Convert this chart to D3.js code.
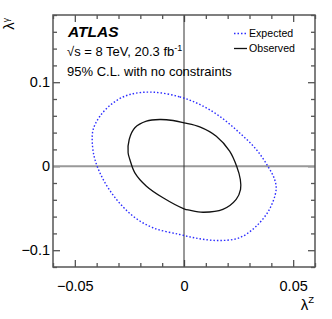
<!DOCTYPE html>
<html>
<head>
<meta charset="utf-8">
<script src="https://cdn.jsdelivr.net/npm/d3@7"></script>
<style>
body { margin: 0; background: #fff; }
text { font-family: "Liberation Sans", Arial, Helvetica, sans-serif; }
</style>
</head>
<body>
<div id="contour"></div>
<script>
// Contorno esperado (lambda_Z, lambda_gamma)
var expZ = [-0.0142, -0.0020, 0.0072, 0.0163, 0.0254, 0.0331, 0.0384, 0.0414, 0.0422, 0.0391, 0.0331, 0.0254, 0.0163, 0.0072, -0.0020, -0.0142, -0.0233, -0.0309, -0.0370, -0.0408, -0.0420, -0.0416, -0.0385, -0.0324, -0.0248];
var expG = [0.0881, 0.0826, 0.0735, 0.0595, 0.0398, 0.0199, 0.0000, -0.0150, -0.0277, -0.0515, -0.0714, -0.0852, -0.0885, -0.0864, -0.0813, -0.0733, -0.0595, -0.0396, -0.0158, 0.0080, 0.0279, 0.0437, 0.0595, 0.0755, 0.0854];

// Contorno observado
var obsZ = [-0.0111, -0.0050, 0.0000, 0.0072, 0.0148, 0.0209, 0.0242, 0.0258, 0.0259, 0.0239, 0.0178, 0.0087, 0.0026, 0.0000, -0.0096, -0.0172, -0.0225, -0.0248, -0.0256, -0.0251, -0.0225, -0.0172];
var obsG = [0.0556, 0.0544, 0.0517, 0.0469, 0.0357, 0.0179, -0.0007, -0.0158, -0.0277, -0.0396, -0.0515, -0.0548, -0.0524, -0.0507, -0.0376, -0.0238, -0.0079, 0.0080, 0.0160, 0.0318, 0.0457, 0.0536];

// Ticks
var xMajor = [-0.05, 0, 0.05];
var xMinor = [-0.06, -0.04, -0.03, -0.02, -0.01, 0.01, 0.02, 0.03, 0.04, 0.06];
var yMajor = [-0.1, 0, 0.1];
var yMinor = [-0.12, -0.08, -0.06, -0.04, -0.02, 0.02, 0.04, 0.06, 0.08, 0.12, 0.14, 0.16, 0.18];

var legendLabels = ["Expected", "Observed"];

// Margens
var margin = {top: 15, right: 17, bottom: 52, left: 53};
var w = 332, h = 319;
var width = w - margin.left - margin.right;
var height = h - margin.top - margin.bottom;

var svg = d3.select("#contour")
  .append("svg")
  .attr("width", w)
  .attr("height", h);

var g = svg.append("g")
  .attr("transform", "translate(" + margin.left + "," + margin.top + ")");

var x = d3.scaleLinear().domain([-0.06, 0.06]).range([0, width]);
var y = d3.scaleLinear().domain([-0.12, 0.18]).range([height, 0]);

var fmt = function(d) { return d3.format("")(+d.toFixed(3)); };
var axisColor = "#555";

// Eixos (ticks para dentro)
function addAxis(axis, tr, labels) {
  var a = g.append("g").attr("transform", tr).call(axis);
  a.select(".domain").remove();
  a.selectAll("line").attr("stroke", axisColor).attr("stroke-width", 1.3);
  if (labels) {
    a.selectAll("text").attr("font-size", "14.5px").attr("fill", "#000");
  } else {
    a.selectAll("text").remove();
  }
  return a;
}

addAxis(d3.axisBottom(x).tickValues(xMajor).tickSize(-7).tickPadding(14).tickFormat(fmt), "translate(0," + height + ")", true);
addAxis(d3.axisBottom(x).tickValues(xMinor).tickSize(-4), "translate(0," + height + ")", false);
addAxis(d3.axisTop(x).tickValues(xMajor).tickSize(-7), "translate(0,0)", false);
addAxis(d3.axisTop(x).tickValues(xMinor).tickSize(-4), "translate(0,0)", false);

addAxis(d3.axisLeft(y).tickValues(yMajor).tickSize(-7).tickPadding(3).tickFormat(fmt), "translate(0,0)", true);
addAxis(d3.axisLeft(y).tickValues(yMinor).tickSize(-4), "translate(0,0)", false);
addAxis(d3.axisRight(y).tickValues(yMajor).tickSize(-7), "translate(" + width + ",0)", false);
addAxis(d3.axisRight(y).tickValues(yMinor).tickSize(-4), "translate(" + width + ",0)", false);

// Linhas do zero
g.append("line")
  .attr("x1", 0).attr("x2", width)
  .attr("y1", y(0)).attr("y2", y(0))
  .attr("stroke", "#999").attr("stroke-width", 2);
g.append("line")
  .attr("x1", x(0)).attr("x2", x(0))
  .attr("y1", 0).attr("y2", height)
  .attr("stroke", "#333").attr("stroke-width", 1);

// Moldura
g.append("rect")
  .attr("x", 0).attr("y", 0)
  .attr("width", width).attr("height", height)
  .attr("fill", "none")
  .attr("stroke", axisColor)
  .attr("stroke-width", 1.5);

// Contornos
var line = d3.line()
  .x(function(d) { return x(d[0]); })
  .y(function(d) { return y(d[1]); })
  .curve(d3.curveCatmullRomClosed);

var expPts = expZ.map(function(d, i) { return [d, expG[i]]; });
var obsPts = obsZ.map(function(d, i) { return [d, obsG[i]]; });

g.append("path")
  .datum(expPts)
  .attr("d", line)
  .attr("fill", "none")
  .attr("stroke", "#2b2bff")
  .attr("stroke-width", 1.4)
  .attr("stroke-dasharray", "1.5,2");

g.append("path")
  .datum(obsPts)
  .attr("d", line)
  .attr("fill", "none")
  .attr("stroke", "#111")
  .attr("stroke-width", 1.3);

// Textos ATLAS
svg.append("text")
  .attr("x", 68).attr("y", 37)
  .attr("font-size", "15.5px")
  .attr("font-weight", "bold")
  .attr("font-style", "italic")
  .text("ATLAS");

var t2 = svg.append("text")
  .attr("x", 67).attr("y", 56)
  .attr("font-size", "13px");
t2.append("tspan").text("\u221As = 8 TeV, 20.3 fb");
t2.append("tspan").attr("font-size", "9px").attr("dy", -5).text("-1");

svg.append("text")
  .attr("x", 67).attr("y", 76)
  .attr("font-size", "13px")
  .text("95% C.L. with no constraints");

// Legenda
var leg = svg.append("g");
leg.append("line")
  .attr("x1", 234).attr("x2", 247).attr("y1", 33.5).attr("y2", 33.5)
  .attr("stroke", "#2b2bff").attr("stroke-width", 1.4).attr("stroke-dasharray", "1.5,2");
leg.append("line")
  .attr("x1", 234).attr("x2", 247).attr("y1", 48.5).attr("y2", 48.5)
  .attr("stroke", "#111").attr("stroke-width", 1.3);
leg.selectAll("text.leg")
  .data(legendLabels)
  .enter()
  .append("text")
  .attr("class", "leg")
  .attr("x", 249)
  .attr("y", function(d, i) { return 37 + i * 15; })
  .attr("font-size", "10.6px")
  .text(function(d) { return d; });

// Titulos dos eixos
var xt = svg.append("text")
  .attr("x", 314).attr("y", 310)
  .attr("text-anchor", "end")
  .attr("font-size", "15px");
xt.append("tspan").text("\u03BB");
xt.append("tspan").attr("font-size", "9.5px").attr("dy", -7).text("Z");

var yt = svg.append("text")
  .attr("transform", "translate(14,18) rotate(-90)")
  .attr("text-anchor", "end")
  .attr("font-size", "15px");
yt.append("tspan").text("\u03BB");
yt.append("tspan").attr("font-size", "8.5px").attr("dy", -5).text("\u03B3");
</script>
</body>
</html>
